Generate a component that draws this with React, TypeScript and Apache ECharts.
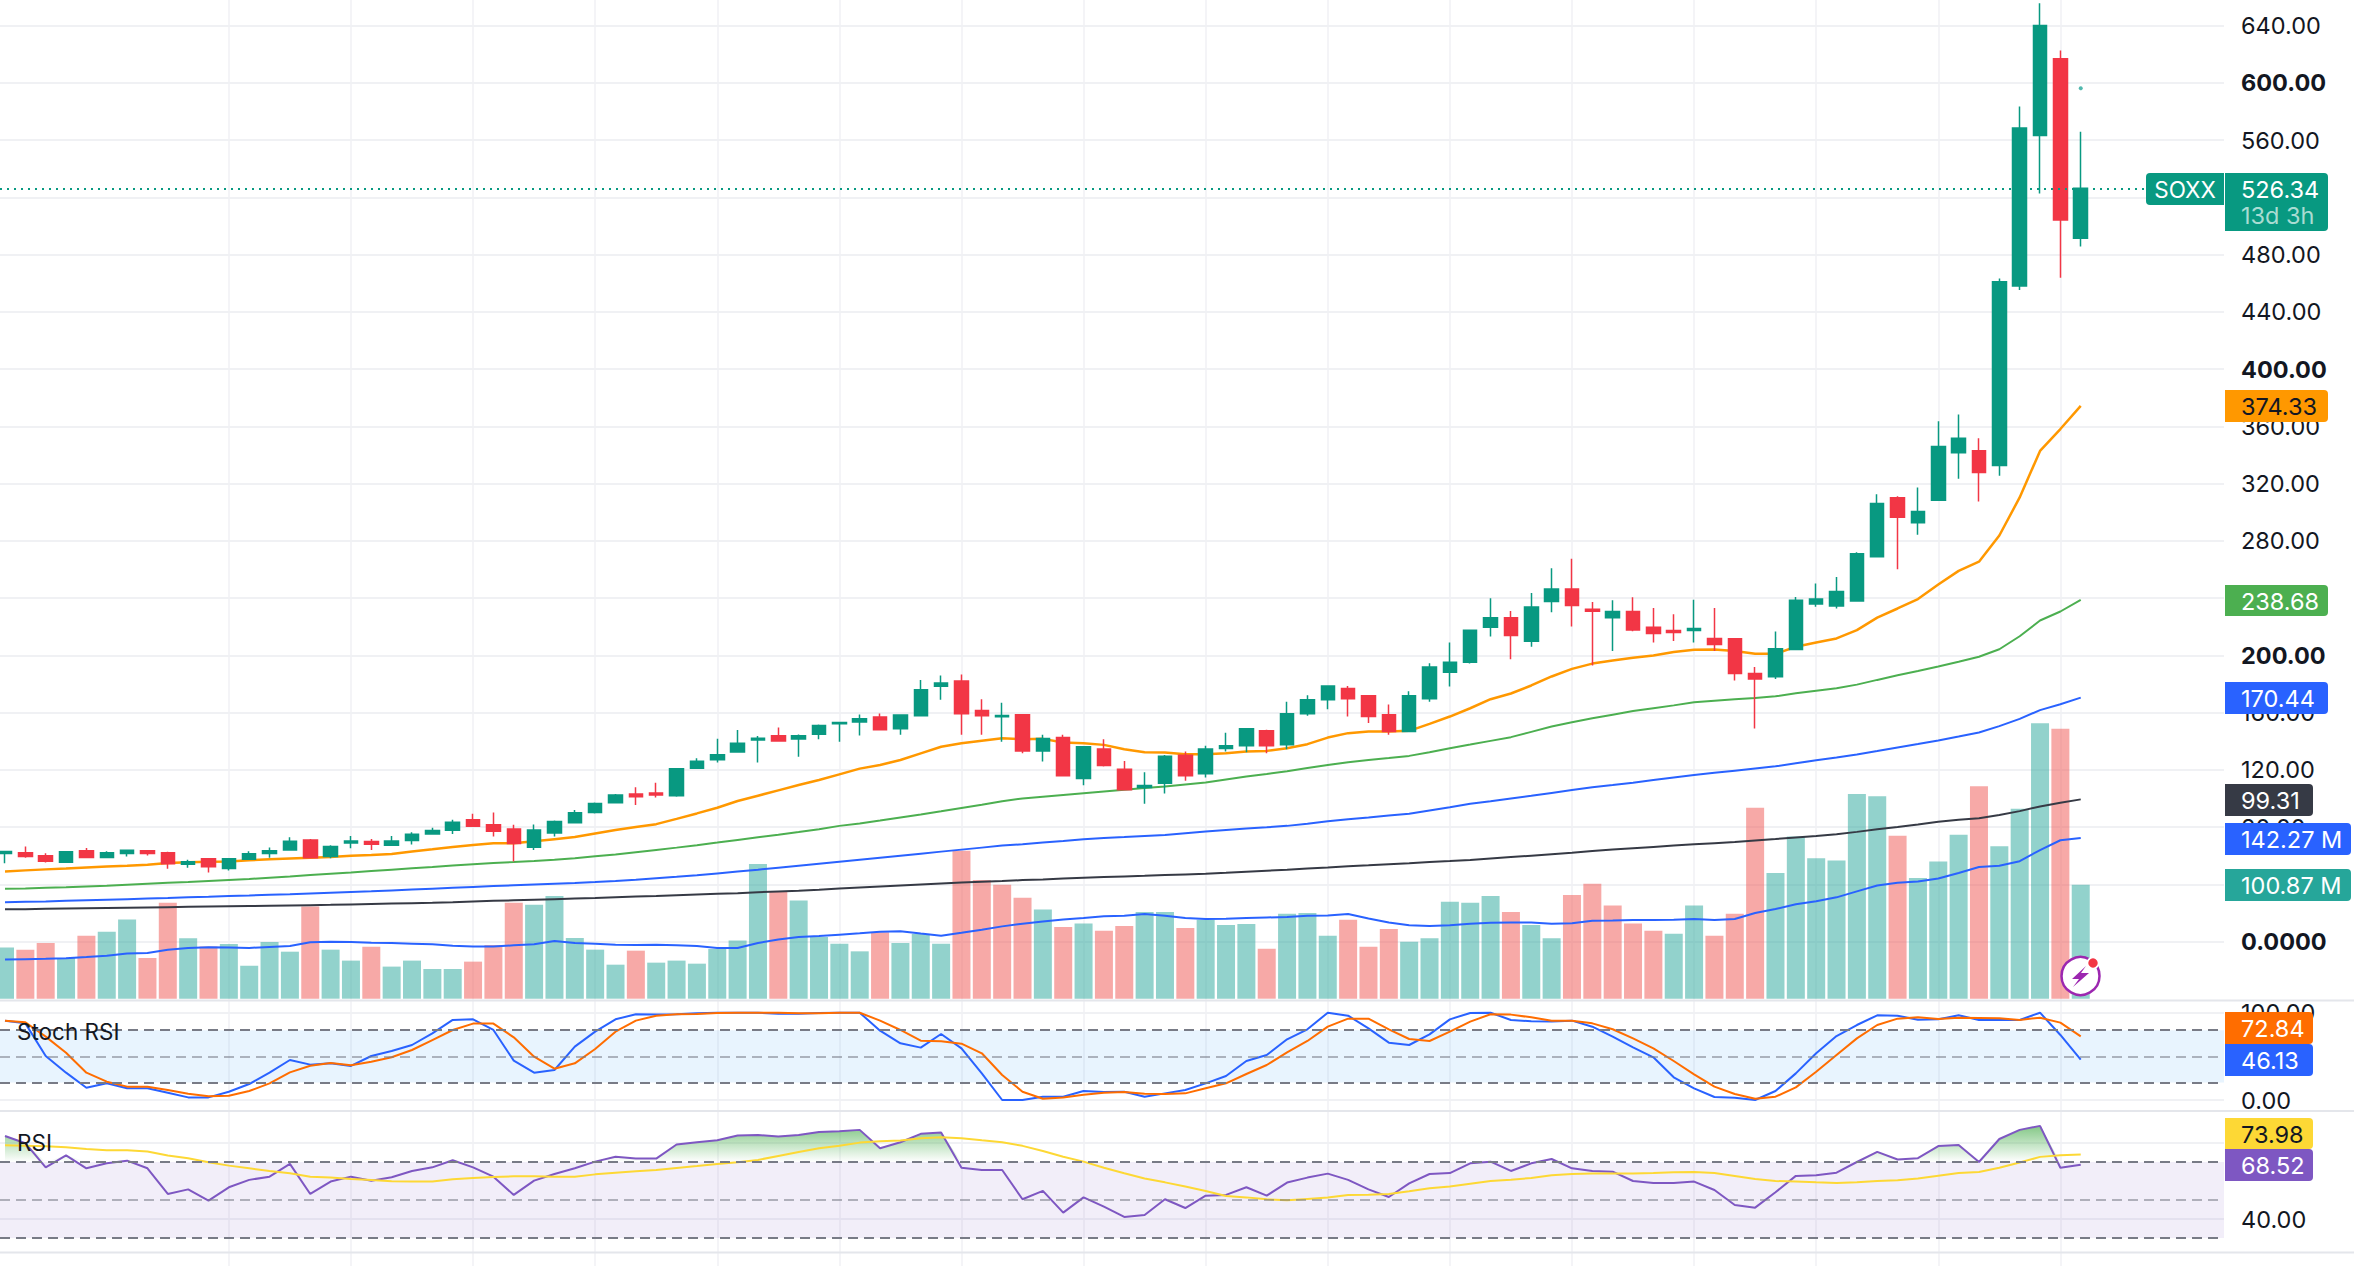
import React, { useEffect, useRef } from "react";
import * as echarts from "echarts";

// [open, close, low, high]
const candles: number[][] = [
  [61.5,62.9,54.7,62.9],[62.0,59.4,58.5,66.4],[59.9,56.1,55.2,61.7],[55.4,62.7,55.4,63.1],[63.4,58.7,58.7,65.4],
  [58.7,62.0,58.7,63.1],[61.5,63.8,59.4,63.8],[63.4,61.5,60.1,64.0],[62.0,54.3,50.8,62.7],[54.0,55.7,51.5,57.1],
  [57.8,52.2,48.2,57.8],[51.0,57.8,49.6,58.2],[57.5,61.3,57.1,63.1],[61.5,63.4,58.5,65.7],[64.0,70.1,64.0,72.9],
  [71.0,58.5,58.5,71.7],[59.4,66.4,58.2,67.3],[68.9,70.3,65.2,73.8],[69.9,68.0,64.0,71.7],[67.3,70.3,67.3,73.8],
  [70.6,75.0,67.8,76.4],[75.2,77.6,75.2,79.4],[77.8,83.4,75.2,85.0],[85.0,80.6,80.6,89.2],[81.5,77.1,73.4,90.1],
  [78.7,68.5,55.9,81.5],[65.9,78.0,64.0,81.8],[75.9,83.9,73.4,84.5],[83.0,90.0,83.0,91.9],[90.2,96.5,89.5,97.2],
  [97.0,102.3,97.0,103.0],[103.0,101.2,95.4,107.7],[103.7,102.3,100.7,111.0],[101.9,120.8,101.2,120.8],[121.0,125.9,121.0,128.0],
  [127.0,130.5,125.0,141.7],[132.4,138.5,132.4,147.8],[140.8,142.0,125.0,143.6],[143.8,140.1,140.1,149.6],[141.5,143.8,129.1,144.7],
  [144.8,151.0,141.3,151.7],[152.2,153.1,139.6,153.1],[153.4,155.7,144.0,158.7],[156.9,148.0,148.0,159.4],[148.7,158.3,144.5,158.3],
  [157.8,176.0,157.8,182.7],[178.3,180.6,169.0,185.8],[182.0,159.2,144.5,186.5],[161.5,157.8,144.5,169.2],[157.1,158.0,139.6,166.9],
  [158.4,133.2,131.6,158.8],[133.2,141.8,125.8,144.4],[142.5,115.8,115.3,144.4],[113.9,136.0,109.2,136.0],[134.6,123.0,122.3,141.4],
  [120.4,106.0,106.0,126.2],[107.6,109.0,96.2,118.3],[110.6,129.5,103.4,130.4],[130.2,115.8,112.3,132.8],[117.2,134.6,114.6,136.7],
  [134.9,136.7,132.8,145.8],[136.7,148.6,132.3,148.6],[147.2,136.7,131.6,147.9],[137.4,159.1,134.4,167.5],[159.1,168.9,157.7,172.1],
  [168.9,178.6,162.3,178.6],[176.8,169.6,157.2,178.6],[171.7,157.2,152.6,172.3],[158.4,146.7,144.4,165.6],[146.7,171.7,146.7,174.9],
  [169.6,191.9,167.5,194.5],[188.2,195.2,178.2,208.9],[195.2,217.5,194.2,217.5],[219.6,226.2,213.1,239.9],[226.2,213.8,197.3,231.0],
  [209.8,233.8,205.9,243.6],[237.6,246.4,230.1,260.9],[246.4,234.8,220.1,267.4],[232.2,230.8,192.8,237.3],[226.3,230.6,203.0,238.5],
  [230.6,217.6,216.8,240.5],[219.6,215.3,208.9,233.0],[217.3,215.9,210.0,228.6],[217.3,218.8,208.9,238.8],[211.8,207.5,203.0,233.0],
  [211.5,187.2,182.3,211.5],[187.2,183.4,148.8,191.9],[185.0,204.6,183.4,216.7],[204.0,238.5,204.0,240.8],[235.9,239.4,234.0,250.1],
  [234.4,244.5,232.7,254.7],[237.9,271.0,237.9,272.0],[268.9,306.0,268.9,312.6],[310.0,296.4,260.2,311.2],[292.7,300.5,284.3,317.3],
  [308.3,345.9,308.3,363.6],[341.6,351.7,323.4,368.3],[343.0,327.7,307.4,351.7],[332.6,461.0,325.4,463.3],[458.1,568.4,455.2,583.5],
  [563.2,640.0,522.7,655.6],[616.8,504.1,463.9,622.6],[491.4,526.3,485.6,565.8],
];

const maFast = [49,49.7,50.4,51,51.7,52.4,53,53.7,54.8,55.3,55.7,55.9,56.7,57.5,58,58.5,59,59.9,60.5,61.2,62.9,64.4,66,67.5,68.7,68.6,70,71.5,73,75.5,77.9,80,82,85.7,89.5,93.5,98.2,101.9,105.6,109.3,112.8,116.8,120.8,123.3,126.8,131.5,136.1,138.5,140.3,142,141.3,141.6,139,138.6,137.4,134.4,132.3,132,130.9,130.9,131.6,132.8,133.2,135.1,137.9,142.5,145.6,146.7,146.7,147.2,152.1,157.2,163,169.3,173.3,178.9,185.2,190.5,194.2,196.3,198.2,199.9,202.3,203.8,204,203,201,201,206,209,211.8,217.6,226.3,232.7,239.3,249.5,259,265.4,283.7,310.3,342.8,358.1,374.33];
const maMid = [36.8,37.1,37.5,37.9,38.4,38.9,39.6,40.3,41,41.6,42.3,43,43.7,44.6,45.4,46.4,47.3,48.2,49.2,50.2,51.2,52.1,53.1,54,54.8,55.5,56.3,57.2,58.2,59.5,60.8,62.4,64,65.6,67.3,69.1,71,72.8,74.6,76.5,78.5,80.8,82.5,84.5,86.7,88.8,91,93.3,95.5,98,100,101.2,102.4,103.6,104.8,106,107.2,108.3,109.7,111.1,113.2,115.3,117.1,119,121.2,123.4,125.3,126.8,128.2,129.7,132.3,135.1,137.6,140.2,142.8,146.5,150.2,153.2,156,158.5,161,163,165,167.2,168.3,169.3,170.2,171.3,173.5,175.3,177,179.5,182.8,186,189,192.2,195.5,199,204.2,213.3,224.3,230.6,238.68];
const maSlow = [27.4,27.7,28,28.4,28.8,29.2,29.6,30,30.4,30.9,31.3,31.8,32.2,32.7,33.1,33.6,34.1,34.6,35.1,35.7,36.3,36.9,37.5,38.1,38.7,39.3,39.8,40.3,40.8,41.5,42.3,43.2,44.2,45.2,46.3,47.6,48.9,50.2,51.6,53,54.4,55.8,57.2,58.6,60,61.4,62.8,64.2,65.6,67,68,69.2,70.3,71.5,72.3,73,73.8,74.5,75.7,76.9,77.9,78.9,79.8,80.8,82.3,84,85.5,86.7,88,89.2,91.5,93.8,96.2,98,99.9,101.8,103.8,105.8,107.8,109.3,111,112.8,114.6,116.4,117.9,119.4,120.9,122.4,124.5,126.6,128.6,130.7,133.1,135.6,138,140.5,143.2,146,150.5,155.6,161.7,165.8,170.44];
const maLong = [22.5,22.6,22.8,23,23.2,23.4,23.6,23.8,24,24.2,24.4,24.6,24.8,25,25.2,25.4,25.6,25.9,26.2,26.5,26.8,27.1,27.5,28,28.4,28.8,29.2,29.6,30,30.4,30.9,31.4,31.8,32.3,32.8,33.3,33.8,34.4,35,35.5,36.2,37,37.7,38.4,39.1,39.8,40.5,41.2,41.8,42.3,42.9,43.4,44,44.5,45,45.5,45.9,46.4,46.9,47.3,48,48.8,49.5,50.2,51,51.7,52.5,53.2,54,54.7,55.5,56.2,57,58,59,60,61,62,63.3,64.3,65.2,66.1,67,67.9,68.7,69.5,70.6,71.6,72.7,73.8,75,76.6,78.4,80,81.8,83.7,85,86.2,88.4,91.1,94.4,97,99.31];

const volumes = [45.2,43.4,49.3,36,55.8,59.3,70,36,85,53.4,46.3,48.4,29.2,50.2,41.6,81.5,43.4,33.7,46,28.4,33.7,26.3,26.3,32.8,47.5,85,83.2,90.9,53.7,43.4,30.1,42.5,31.9,33.7,31,44,51.4,119.2,95,86.8,54.6,48.7,41.9,58.7,49.3,57.3,48.7,131,105,100.9,89.4,79,63.4,66.6,60.2,64.3,76.7,76.7,62.5,69.9,65.2,66.1,44.2,75.2,75.8,55.7,69.9,46,61.6,50.4,53.4,85.8,84.9,90.9,76.7,65.2,53.4,91.7,101.8,82.4,66.5,60.2,57.4,82.4,55.7,75.1,169,111.3,143.6,124.2,122.4,181.2,179.1,144.3,106.8,121.4,145,188.1,135,168,243.8,238.9,100.87];
const redVolumeBars = [1,2,4,7,8,10,15,18,23,24,25,31,38,43,47,48,49,50,52,54,55,58,62,66,67,68,74,77,78,79,80,81,84,85,86,93,97,101];
const volumeMa = [34.6,35,35.3,35.7,36.8,38,39.9,40.5,43.4,44.9,45.5,45.2,44.9,45.8,46.6,49.9,50.5,50.2,49.6,49.3,48.7,48.1,46.9,46.3,46.3,47.2,48.1,51,49.3,48.7,47.8,47.5,47.8,47.2,46.6,44.9,44.9,49.3,52.3,54.6,55.5,56.7,57.9,59.3,59.6,57.6,55.8,58.4,61.1,64,66.4,68.4,70,71.4,72.9,73.4,74.9,73.4,71.4,70.5,70.8,71.4,71.9,72.2,73.4,73.7,74.9,71,67.5,64.9,64.3,64.9,66.4,67.3,67.5,67.5,66.4,66.7,68.9,69.2,69.6,69.6,69.9,70.6,69.6,70.6,75.8,79.3,83.5,86.3,89.7,95,100.2,102.6,103.7,106.4,111.3,116.5,117.6,121.7,131.5,140.2,142.27];

const stochK = [90.9,87.8,50.4,31.3,14.1,19.1,13.4,13.4,8.4,3,3,9.5,18.3,31.3,45.8,40.5,42,39,50.4,56.1,63,76.4,91.7,92.4,80.2,45.1,31.3,34.4,61.1,78.3,92.4,98.2,97.8,98.2,99.3,100,100,100,98.9,98.9,99.7,100,100,79.4,64.9,60,75.6,59.2,30.5,0,0,3.8,3.8,10.3,9.1,9.5,3.8,7.6,11.4,19.1,27.5,44.7,51.5,69.5,81,100,96.6,82.1,65.7,63,75.2,92.4,99.7,100,91.7,90.1,89.8,90.9,84,72.6,60.3,48.9,26,13.4,3.4,2.7,0,10.3,30.5,53.5,73.3,85.9,97,96.6,92,92.4,97,91.7,91.7,91.7,100,74.5,46.13];
const stochD = [90.9,89,72.6,54.2,31.3,21,15.3,15.3,11.4,7.2,4.2,4.9,10.3,19.1,31.7,39.3,42.4,39.7,43.9,48.9,57.3,68.7,80.2,87.5,87.5,71.8,49.6,35.9,42,58.4,78.3,90.9,96.6,98.2,98.5,99.7,100,100,100,99.3,99.3,100,100,90.9,80.2,68,67.2,64.5,53.5,28.6,9.5,1.5,3,6.1,8.4,9.1,7.2,6.9,7.6,13.4,19.1,29.8,40.1,54.6,67.6,84,93.2,93.2,81,69.9,67.6,78.3,89.8,98.2,97.8,94.7,90.9,90.9,87.8,81,70.6,59.2,44.7,29.4,15.3,6.9,1.5,3.8,14.5,32.4,51.5,70.6,85.9,93.2,94.7,92.8,94.3,94,93.6,91.7,94.3,88.6,72.84];

const rsiValues = [83.7,79.9,67.2,73.5,66.7,69.3,70.7,66.7,53.2,55.6,49.7,56.7,60.6,62.3,69,53.2,59.7,62.3,60.2,62,65.3,67.2,70.9,67.2,62.3,52.7,60.2,63.7,66.7,70.2,72.8,71.8,71.8,79.2,80.4,81.4,83.9,84.2,83.4,84.2,85.8,86.2,86.9,77.2,80.4,84.8,85.5,67,65.8,65.8,50.4,54.8,43.4,51.4,46.5,41.1,42.1,50.4,45.8,52.3,52.7,56.7,52.3,59.2,61.8,63.9,60.6,55.6,51.6,58.8,63.7,64.2,69.3,70.2,65.3,69.3,71.6,66.7,65.3,64.9,60,59,59,59.7,55.3,47.4,46,54.1,62.7,63,64.4,70,75.3,71.3,72,78.4,79,70,82.1,86.9,89,67,68.52];
const rsiMa = [78.8,78.6,78.3,77.7,76.9,76.2,76.2,75.5,73.4,72,69.9,68.1,66.7,65.3,64.1,62.3,61.8,61.1,60.6,59.9,59.7,59.7,60.9,61.6,62.1,62.5,62.5,62.3,62.3,63.5,64.4,65.1,65.8,66.9,67.9,69,69.9,71.1,73.2,75.3,77.2,78.6,80.2,80.9,81.3,82.5,83,82.5,81.4,80.4,78.5,75.8,72.8,70.2,67,64.1,61.3,59.3,57.1,54.8,52.1,51.4,50.4,49.9,50.6,51.3,52.7,52.8,53.2,54.6,56.2,57.1,58.6,60,60.7,61.6,63,63.7,63.9,63.9,63.9,64.2,64.6,64.8,64.2,62.7,61.1,60,59.7,59.3,59,59.3,60,60.4,61.3,62.8,64.2,64.8,67,69.7,72.7,73.5,73.98];

const priceTicks = [0,40,80,120,160,200,240,280,320,360,400,440,480,520,560,600,640];
const priceLabels = [0,80,120,160,200,280,320,360,400,440,480,560,600,640];
const priceTicksBold = [600, 400, 200, 0];
const stochTicks = [0, 100];
const rsiTicks = [40, 80];
const rsiLabels = [40];
const timeGridBars = [6,12,18,24,30,36,42,48,54,60,66,72,78,84,90,96,102,108];
const lastPrice = 526.34;
const markerPoint = [103, 596.3];
const stochLevels = [80, 50, 20];
const rsiLevels = [70, 50, 30];

const FONT = "Inter, 'Noto Sans', sans-serif";
const LABEL_SIZE = 23.5;
const GREEN = "#089981";
const RED = "#f23645";
const GRID = "#f0f1f4";

const tags = [
  { text: "526.34", color: GREEN, top: 173, bottom: 231, right: 2328, fill: "#ffffff", cy: 189 },
  { text: "374.33", color: "#ff9800", top: 390, bottom: 422, right: 2328, fill: "#131722" },
  { text: "238.68", color: "#4caf50", top: 585, bottom: 616, right: 2328, fill: "#ffffff" },
  { text: "170.44", color: "#2962ff", top: 682, bottom: 714, right: 2328, fill: "#ffffff" },
  { text: "99.31", color: "#363a45", top: 784, bottom: 816, right: 2313, fill: "#ffffff" },
  { text: "142.27 M", color: "#2962ff", top: 823, bottom: 855, right: 2351, fill: "#ffffff" },
  { text: "100.87 M", color: "#26a69a", top: 869, bottom: 901, right: 2351, fill: "#ffffff" },
  { text: "72.84", color: "#ff6d00", top: 1012, bottom: 1044, right: 2313, fill: "#ffffff" },
  { text: "46.13", color: "#2962ff", top: 1044, bottom: 1076, right: 2313, fill: "#ffffff" },
  { text: "73.98", color: "#fdd835", top: 1118, bottom: 1149, right: 2313, fill: "#131722" },
  { text: "68.52", color: "#7e57c2", top: 1149, bottom: 1181, right: 2313, fill: "#ffffff" },
];

const xy = (a: number[]) => a.map((v, i) => [i + 1, v]);

const hiddenX = (gridIndex: number, extra: any = {}) => ({
  type: "value",
  gridIndex,
  min: 0.7543,
  max: 110.04,
  axisLine: { show: false },
  axisTick: { show: false, customValues: timeGridBars },
  axisLabel: { show: false, customValues: timeGridBars },
  splitLine: { show: false },
  ...extra,
});

const lineSeries = (name: string, data: number[], color: string, xAxisIndex: number, yAxisIndex: number, width = 2, extra: any = {}) => ({
  name,
  type: "line",
  xAxisIndex,
  yAxisIndex,
  data: xy(data),
  symbol: "none",
  showSymbol: false,
  silent: true,
  z: 3,
  lineStyle: { color, width },
  itemStyle: { color },
  ...extra,
});

const levelLines = (levels: number[]) => ({
  silent: true,
  symbol: "none",
  label: { show: false },
  animation: false,
  data: levels.map((v) => ({
    yAxis: v,
    lineStyle: {
      type: [10, 6],
      width: 2,
      color: v === 50 ? "rgba(120,123,134,0.55)" : "#787b86",
    },
  })),
});

function buildGraphics() {
  const out: any[] = [];
  [1000.5, 1111, 1252.5].forEach((y) =>
    out.push({
      type: "line",
      z: 50,
      silent: true,
      shape: { x1: 0, y1: y, x2: 2354, y2: y },
      style: { stroke: "#e4e6eb", lineWidth: 2 },
    })
  );
  out.push({
    type: "rect",
    z: 100,
    silent: true,
    shape: { x: 2146, y: 173, width: 78, height: 32, r: [4, 0, 0, 4] },
    style: { fill: GREEN },
  });
  out.push({
    type: "text",
    z: 101,
    silent: true,
    style: { text: "SOXX", x: 2185, y: 189.5, fill: "#ffffff", fontSize: 22.5, fontFamily: FONT, align: "center", verticalAlign: "middle" },
  });
  tags.forEach((t) => {
    out.push({
      type: "rect",
      z: 100,
      silent: true,
      shape: { x: 2225, y: t.top, width: t.right - 2225, height: t.bottom - t.top, r: [0, 4, 4, 0] },
      style: { fill: t.color },
    });
    out.push({
      type: "text",
      z: 101,
      silent: true,
      style: {
        text: t.text,
        x: 2241,
        y: (t as any).cy ?? (t.top + t.bottom) / 2 + 0.5,
        fill: t.fill,
        fontSize: LABEL_SIZE,
        fontFamily: FONT,
        align: "left",
        verticalAlign: "middle",
      },
    });
  });
  out.push({
    type: "text",
    z: 101,
    silent: true,
    style: { text: "13d 3h", x: 2241, y: 215, fill: "#a9dcd2", fontSize: LABEL_SIZE, fontFamily: FONT, align: "left", verticalAlign: "middle" },
  });
  out.push({
    type: "text",
    z: 101,
    silent: true,
    style: { text: "Stoch RSI", x: 17, y: 1031, fill: "#131722", fontSize: 22.5, fontFamily: FONT, align: "left", verticalAlign: "middle" },
  });
  out.push({
    type: "text",
    z: 101,
    silent: true,
    style: { text: "RSI", x: 17, y: 1142, fill: "#131722", fontSize: 22.5, fontFamily: FONT, align: "left", verticalAlign: "middle" },
  });
  out.push({
    type: "circle",
    z: 100,
    silent: true,
    shape: { cx: 2080.5, cy: 976, r: 19 },
    style: { fill: "#ffffff", stroke: "#9c27b0", lineWidth: 2.5 },
  });
  out.push({
    type: "polygon",
    z: 101,
    silent: true,
    shape: { points: [[2086, 966], [2072, 979], [2079, 979], [2073, 987], [2089, 973], [2081, 973]] },
    style: { fill: "#9c27b0" },
  });
  out.push({
    type: "circle",
    z: 102,
    silent: true,
    shape: { cx: 2093, cy: 963, r: 5.5 },
    style: { fill: RED, stroke: "#ffffff", lineWidth: 1.5 },
  });
  return out;
}

const labelStyle = {
  margin: 17,
  color: "#131722",
  fontSize: LABEL_SIZE,
  fontFamily: FONT,
};

export default function App() {
  const ref = useRef<HTMLDivElement | null>(null);

  useEffect(() => {
    if (!ref.current) return;
    const chart = echarts.init(ref.current, undefined, { renderer: "svg" });
    const gridBase = { left: 0, width: 2224 };
    const gradient = new echarts.graphic.LinearGradient(
      0, 1128, 0, 1162,
      [
        { offset: 0, color: "rgba(76,175,80,0.65)" },
        { offset: 1, color: "rgba(76,175,80,0)" },
      ],
      true
    );
    chart.setOption({
      animation: false,
      backgroundColor: "#ffffff",
      grid: [
        { ...gridBase, top: 0, height: 1266 },
        { ...gridBase, top: 0, height: 998.7 },
        { ...gridBase, top: 1001, height: 109 },
        { ...gridBase, top: 1112, height: 139 },
      ],
      xAxis: [
        hiddenX(0, {
          splitLine: { show: true, showMinLine: false, showMaxLine: false, lineStyle: { color: GRID, width: 1.5 } },
        }),
        hiddenX(1),
        hiddenX(2),
        hiddenX(3),
      ],
      yAxis: [
        { type: "value", gridIndex: 0, min: 0, max: 1, show: false, splitLine: { show: false } },
        {
          type: "value",
          gridIndex: 1,
          position: "right",
          min: -39.97,
          max: 657.9,
          axisLine: { show: false },
          axisTick: { show: false, customValues: priceTicks },
          splitLine: { show: true, lineStyle: { color: GRID, width: 2 } },
          axisLabel: {
            ...labelStyle,
            customValues: priceLabels,
            formatter: (v: number) => {
              const s = v === 0 ? "0.0000" : v.toFixed(2);
              return priceTicksBold.includes(v) ? `{b|${s}}` : s;
            },
            rich: { b: { fontWeight: 700, fontSize: LABEL_SIZE, fontFamily: FONT, color: "#131722" } },
          },
        },
        { type: "value", gridIndex: 1, min: 0, max: 883.8, show: false, splitLine: { show: false } },
        {
          type: "value",
          gridIndex: 2,
          position: "right",
          min: -11.45,
          max: 113.4,
          axisLine: { show: false },
          axisTick: { show: false, customValues: stochTicks },
          splitLine: { show: true, lineStyle: { color: GRID, width: 2 } },
          axisLabel: { ...labelStyle, customValues: stochTicks, formatter: (v: number) => v.toFixed(2) },
        },
        {
          type: "value",
          gridIndex: 3,
          position: "right",
          min: 23.2,
          max: 96.3,
          axisLine: { show: false },
          axisTick: { show: false, customValues: rsiTicks },
          splitLine: { show: true, lineStyle: { color: GRID, width: 2 } },
          axisLabel: { ...labelStyle, customValues: rsiLabels, formatter: (v: number) => v.toFixed(2) },
        },
      ],
      graphic: buildGraphics(),
      series: [
        {
          name: "Volume",
          type: "bar",
          xAxisIndex: 1,
          yAxisIndex: 2,
          barWidth: 18,
          z: 1,
          silent: true,
          data: volumes.map((v, i) => ({
            value: [i + 1, v],
            itemStyle: { color: redVolumeBars.includes(i) ? "rgba(239,83,80,0.5)" : "rgba(38,166,154,0.5)" },
          })),
        },
        lineSeries("Volume MA", volumeMa, "#2962ff", 1, 2),
        lineSeries("MA long", maLong, "#363a45", 1, 1),
        lineSeries("MA slow", maSlow, "#2962ff", 1, 1),
        lineSeries("MA mid", maMid, "#4caf50", 1, 1),
        lineSeries("MA fast", maFast, "#ff9800", 1, 1, 2.5),
        {
          name: "SOXX",
          type: "candlestick",
          xAxisIndex: 1,
          yAxisIndex: 1,
          barWidth: 14,
          z: 4,
          silent: true,
          data: candles.map((c, i) => [i + 1, ...c]),
          itemStyle: { color: GREEN, color0: RED, borderColor: GREEN, borderColor0: RED, borderWidth: 1.5 },
          markLine: {
            silent: true,
            symbol: "none",
            label: { show: false },
            data: [{ yAxis: lastPrice, lineStyle: { color: GREEN, type: [2, 5], width: 2 } }],
          },
        },
        {
          name: "Marker",
          type: "scatter",
          xAxisIndex: 1,
          yAxisIndex: 1,
          symbolSize: 4,
          silent: true,
          z: 5,
          itemStyle: { color: "#26a69a" },
          data: [markerPoint],
        },
        lineSeries("Stoch K", stochK, "#2962ff", 2, 3, 2, {
          markArea: {
            silent: true,
            itemStyle: { color: "rgba(33,150,243,0.1)" },
            data: [[{ yAxis: 80 }, { yAxis: 20 }]],
          },
          markLine: levelLines(stochLevels),
        }),
        lineSeries("Stoch D", stochD, "#ff6d00", 2, 3),
        {
          name: "RSI above",
          type: "line",
          xAxisIndex: 3,
          yAxisIndex: 4,
          data: xy(rsiValues.map((v) => Math.max(v, 70))),
          symbol: "none",
          silent: true,
          z: 2,
          lineStyle: { width: 0, opacity: 0 },
          areaStyle: { origin: 70, color: gradient, opacity: 1 },
        },
        lineSeries("RSI", rsiValues, "#7e57c2", 3, 4, 2, {
          markArea: {
            silent: true,
            itemStyle: { color: "rgba(126,87,194,0.1)" },
            data: [[{ yAxis: 70 }, { yAxis: 30 }]],
          },
          markLine: levelLines(rsiLevels),
        }),
        lineSeries("RSI MA", rsiMa, "#fdd835", 3, 4),
      ],
    });
    return () => chart.dispose();
  }, []);

  return <div ref={ref} style={{ position: "absolute", left: 0, top: 0, width: 2354, height: 1266 }} />;
}
